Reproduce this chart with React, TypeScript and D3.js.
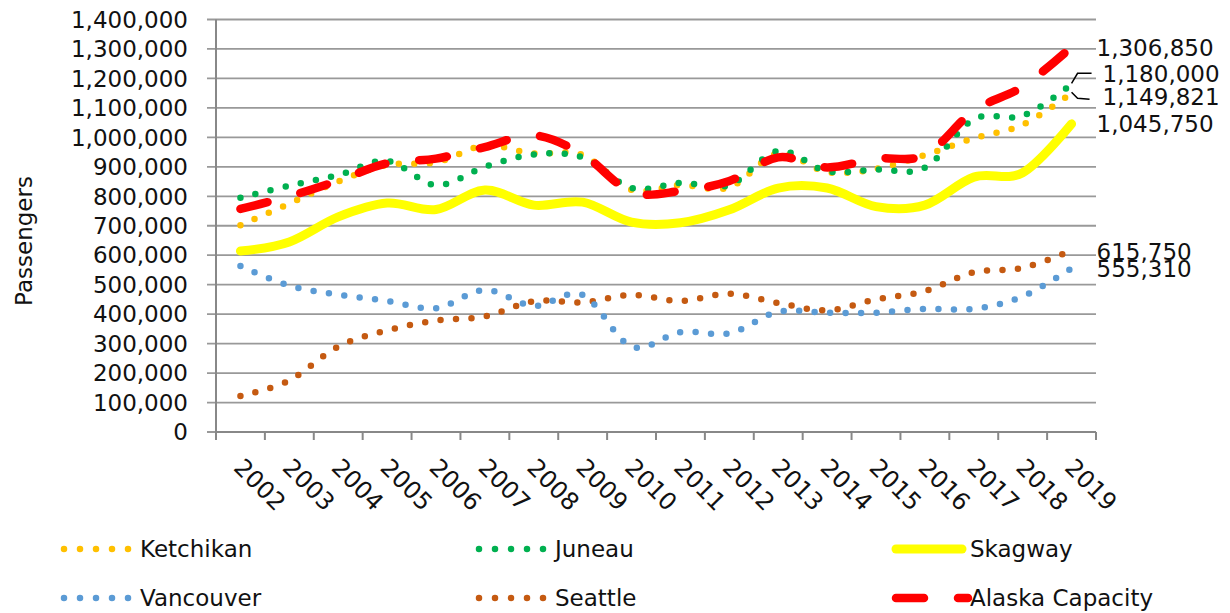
import React from "react";
import * as d3 from "d3";

const years = ["2002","2003","2004","2005","2006","2007","2008","2009","2010","2011","2012","2013","2014","2015","2016","2017","2018","2019"];
const ketchikan = [702000, 775000, 850000, 906000, 915000, 972000, 945000, 940000, 822000, 838000, 830000, 945000, 882000, 893000, 940000, 997000, 1043000, 1149821];
const juneau = [795000, 836000, 872000, 920000, 838000, 900000, 942000, 932000, 828000, 845000, 838000, 954000, 885000, 891000, 897000, 1062000, 1073000, 1180000];
const skagway = [614000, 645000, 730000, 777000, 755000, 821000, 770000, 780000, 712000, 710000, 754000, 828000, 828000, 765000, 770000, 865000, 880000, 1045750];
const vancouver = [563000, 497000, 466000, 445000, 420000, 482000, 428000, 465000, 290000, 339000, 335000, 408000, 405000, 405000, 418000, 418000, 460000, 555310];
const seattle = [122000, 175000, 290000, 345000, 378000, 392000, 444000, 440000, 465000, 445000, 469000, 438000, 413000, 450000, 478000, 542000, 557000, 615750];
const capacity = [757000, 800000, 853000, 912000, 928000, 967000, 1007000, 942000, 815000, 818000, 852000, 932000, 898000, 928000, 940000, 1090000, 1172000, 1306850];
const yTicks = [0, 100000, 200000, 300000, 400000, 500000, 600000, 700000, 800000, 900000, 1000000, 1100000, 1200000, 1300000, 1400000];

const FONT = "'DejaVu Sans', sans-serif";
const FS = 23;

type S = { name: string; values: number[]; color: string; kind: "dot" | "solid" | "dash"; labelDy: number; leader?: "up" | "down" };
const series: S[] = [
  { name: "Ketchikan", values: ketchikan, color: "#FFC000", kind: "dot", labelDy: 4, leader: "down" },
  { name: "Juneau", values: juneau, color: "#00B050", kind: "dot", labelDy: -11, leader: "up" },
  { name: "Skagway", values: skagway, color: "#FFFF00", kind: "solid", labelDy: 0 },
  { name: "Vancouver", values: vancouver, color: "#5B9BD5", kind: "dot", labelDy: 0 },
  { name: "Seattle", values: seattle, color: "#C55A11", kind: "dot", labelDy: 1 },
  { name: "Alaska Capacity", values: capacity, color: "#FF0000", kind: "dash", labelDy: 1 },
];

function strokeProps(kind: string, color: string) {
  if (kind === "dot") return { stroke: color, strokeWidth: 6.5, strokeDasharray: "0 15.5", strokeLinecap: "round" as const };
  if (kind === "solid") return { stroke: color, strokeWidth: 9, strokeLinecap: "round" as const };
  return { stroke: color, strokeWidth: 8.5, strokeDasharray: "28 34", strokeLinecap: "round" as const };
}

export default function App() {
  const W = 1230, H = 613;
  const left = 216, right = 1096, top = 19.5, bottom = 432;
  const x = d3.scaleBand<string>().domain(years).range([left, right]).padding(0);
  const y = d3.scaleLinear().domain([0, 1400000]).range([bottom, top]);
  const cx = (i: number) => (x(years[i]) as number) + x.bandwidth() / 2;
  const line = d3.line<number>().x((_, i) => cx(i)).y((v) => y(v)).curve(d3.curveCardinal.tension(0));
  const fmt = d3.format(",");
  const lastI = years.length - 1;
  const xl = cx(lastI);

  const drawOrder = [4, 3, 2, 0, 1, 5];

  const legend = [
    { s: series[0], lx: 64, ty: 549 },
    { s: series[1], lx: 479, ty: 549 },
    { s: series[2], lx: 896, ty: 549 },
    { s: series[3], lx: 64, ty: 598 },
    { s: series[4], lx: 479, ty: 598 },
    { s: series[5], lx: 896, ty: 598 },
  ];

  return (
    <svg width={W} height={H} style={{ position: "absolute", left: 0, top: 0, background: "#fff" }} fontFamily={FONT}>
      {yTicks.map((t) => (
        <line key={"g" + t} x1={left - 9} x2={right} y1={y(t)} y2={y(t)} stroke="#999" strokeWidth={1.8} />
      ))}
      {yTicks.map((t) => (
        <text key={"yl" + t} x={left - 28} y={y(t)} dy="0.36em" textAnchor="end" fontSize={FS} fill="#111">
          {t === 0 ? "0" : fmt(t)}
        </text>
      ))}
      <line x1={left} x2={left} y1={top} y2={bottom + 8} stroke="#888" strokeWidth={2} />
      <line x1={left} x2={right} y1={bottom} y2={bottom} stroke="#888" strokeWidth={2} />
      {years.map((yr) => (
        <line key={"xt" + yr} x1={(x(yr) as number) + x.bandwidth()} x2={(x(yr) as number) + x.bandwidth()} y1={bottom} y2={bottom + 8} stroke="#888" strokeWidth={2} />
      ))}
      {years.map((yr, i) => (
        <text key={"xl" + yr} transform={`translate(${cx(i) - 8},${bottom + 37}) rotate(45)`} fontSize={FS + 1} fill="#111">
          {yr}
        </text>
      ))}
      <text transform={`translate(32,241) rotate(-90)`} textAnchor="middle" fontSize={FS} fill="#111">Passengers</text>

      {drawOrder.map((k) => {
        const s = series[k];
        return <path key={s.name} d={line(s.values) as string} fill="none" {...strokeProps(s.kind, s.color)} />;
      })}

      {series.map((s) => {
        const yv = y(s.values[lastI]);
        const lx = s.leader ? xl + 31 : xl + 25;
        return (
          <g key={"dl" + s.name}>
            {s.leader === "up" && (
              <path d={`M${xl},${yv - 1} L${xl + 6},${yv + s.labelDy} L${xl + 20},${yv + s.labelDy}`} fill="none" stroke="#000" strokeWidth={1.5} />
            )}
            {s.leader === "down" && (
              <path d={`M${xl},${yv - 1} L${xl + 6},${yv + s.labelDy + 1} L${xl + 18},${yv + s.labelDy + 2}`} fill="none" stroke="#000" strokeWidth={1.5} />
            )}
            <text x={lx} y={yv + s.labelDy} dy="0.36em" fontSize={FS} fill="#111">{fmt(s.values[lastI])}</text>
          </g>
        );
      })}

      {legend.map(({ s, lx, ty }) => (
        <g key={"lg" + s.name}>
          <line
            x1={lx}
            x2={lx + (s.kind === "dash" ? 72 : s.kind === "solid" ? 66 : 64.5)}
            y1={ty}
            y2={ty}
            {...strokeProps(s.kind, s.color)}
            strokeDasharray={s.kind === "dot" ? "0 16" : s.kind === "dash" ? "28 34" : undefined}
          />
          <text x={s.kind === "dot" ? lx + 76 : lx + 74} y={ty} dy="0.36em" fontSize={FS} fill="#111">{s.name}</text>
        </g>
      ))}
    </svg>
  );
}
